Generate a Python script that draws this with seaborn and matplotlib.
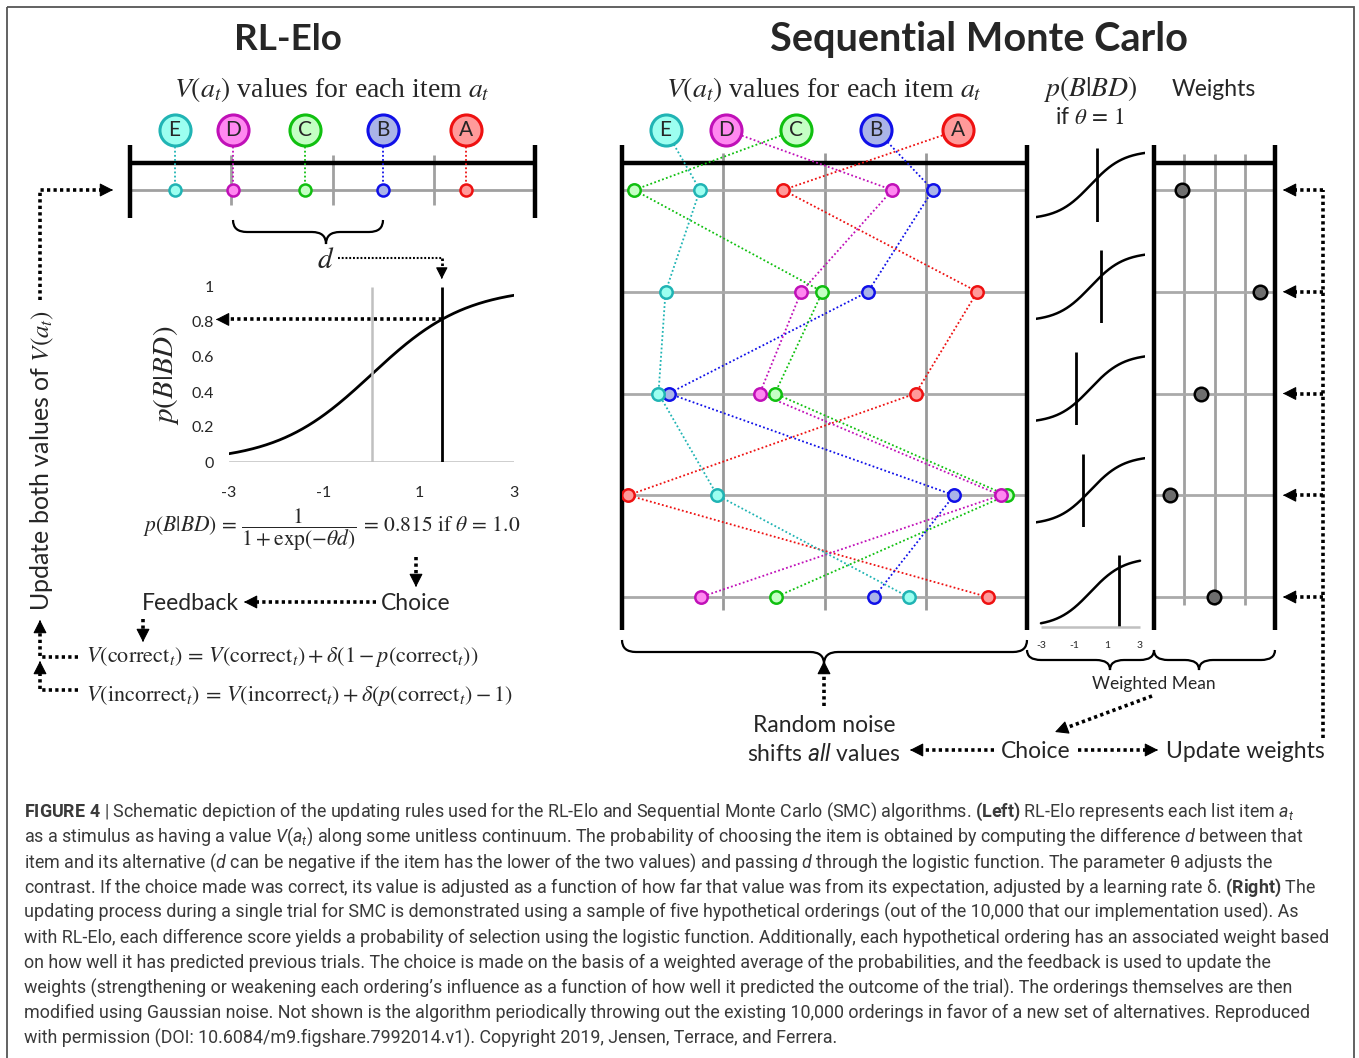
import numpy as np
import pandas as pd
import matplotlib
matplotlib.use("Agg")
import matplotlib.pyplot as plt
from matplotlib.path import Path
from matplotlib.patches import PathPatch, Rectangle
import seaborn as sns

# ---------------- data ----------------
items = ["A", "B", "C", "D", "E"]
rl_values = [3.32, 2.50, 1.73, 1.02, 0.44]        # RL-Elo V(a_t) on a 0..4 continuum
smc_label_pos = [3.32, 2.51, 1.72, 1.03, 0.43]    # item badges above the SMC panel
smc_A = [1.59, 3.51, 2.90, 0.06, 3.61]            # five hypothetical orderings (rows 1..5)
smc_B = [3.07, 2.43, 0.46, 3.28, 2.49]
smc_C = [0.12, 1.98, 1.51, 3.80, 1.52]
smc_D = [2.67, 1.77, 1.36, 3.74, 0.78]
smc_E = [0.77, 0.43, 0.36, 0.94, 2.83]
weights = [0.93, 3.50, 1.55, 0.53, 1.98]
theta = 1.0
p_ticks = [0, 0.2, 0.4, 0.6, 0.8, 1]
d_ticks = [-3, -1, 1, 3]
continuum_grid = [1, 2, 3]

caption_lines = [
    r"$\mathbf{FIGURE\ 4}$ | Schematic depiction of the updating rules used for the RL-Elo and Sequential Monte Carlo (SMC) algorithms. $\mathbf{(Left)}$ RL-Elo represents each list item $a_t$",
    r"as a stimulus as having a value $V(a_t)$ along some unitless continuum. The probability of choosing the item is obtained by computing the difference $d$ between that",
    r"item and its alternative ($d$ can be negative if the item has the lower of the two values) and passing $d$ through the logistic function. The parameter θ adjusts the",
    r"contrast. If the choice made was correct, its value is adjusted as a function of how far that value was from its expectation, adjusted by a learning rate δ. $\mathbf{(Right)}$ The",
    r"updating process during a single trial for SMC is demonstrated using a sample of five hypothetical orderings (out of the 10,000 that our implementation used). As",
    r"with RL-Elo, each difference score yields a probability of selection using the logistic function. Additionally, each hypothetical ordering has an associated weight based",
    r"on how well it has predicted previous trials. The choice is made on the basis of a weighted average of the probabilities, and the feedback is used to update the",
    r"weights (strengthening or weakening each ordering’s influence as a function of how well it predicted the outcome of the trial). The orderings themselves are then",
    r"modified using Gaussian noise. Not shown is the algorithm periodically throwing out the existing 10,000 orderings in favor of a new set of alternatives. Reproduced",
    r"with permission (DOI: 10.6084/m9.figshare.7992014.v1). Copyright 2019, Jensen, Terrace, and Ferrera.",
]

edge = {"A": "#ee1111", "B": "#1010e8", "C": "#10c010", "D": "#c010b8", "E": "#20b4b4"}
fill = {"A": "#ff9a9a", "B": "#aab4e8", "C": "#c4ffc4", "D": "#ff88f0", "E": "#9cfff0"}
smc = {"A": smc_A, "B": smc_B, "C": smc_C, "D": smc_D, "E": smc_E}

# ---------------- style ----------------
sns.set_style("white")
plt.rcParams["font.family"] = ["Lato", "DejaVu Sans"]
plt.rcParams["mathtext.fontset"] = "custom"
plt.rcParams["mathtext.rm"] = "Roboto"
plt.rcParams["mathtext.it"] = "Roboto:italic"
plt.rcParams["mathtext.bf"] = "Roboto:bold"
plt.rcParams["axes.unicode_minus"] = False

W, H, DPI = 1359, 1058, 100
fig = plt.figure(figsize=(W / DPI, H / DPI), dpi=DPI)
fig.patch.set_facecolor("white")

# canvas in pixel coordinates for annotations
cv = fig.add_axes([0, 0, 1, 1])
cv.set_xlim(0, W)
cv.set_ylim(H, 0)
cv.set_axis_off()

ROW = 101.75      # px between ordering rows
ROW0 = 190.0      # px of first row


def ypx(r):
    return ROW0 + r * ROW


def px_axes(x0, y0, x1, y1):
    ax = fig.add_axes([x0 / W, 1 - y1 / H, (x1 - x0) / W, (y1 - y0) / H])
    ax.patch.set_alpha(0)
    return ax


def brace(x0, x1, y, h, xm=None, lw=1.6):
    if xm is None:
        xm = (x0 + x1) / 2
    r = min(14, (xm - x0) / 2, (x1 - xm) / 2)
    ym = y + h / 2
    verts = [(x0, y), (x0, ym), (x0 + r, ym), (xm - r, ym), (xm, ym), (xm, y + h),
             (xm, ym), (xm + r, ym), (x1 - r, ym), (x1, ym), (x1, y)]
    codes = [Path.MOVETO, Path.CURVE3, Path.CURVE3, Path.LINETO, Path.CURVE3, Path.CURVE3,
             Path.CURVE3, Path.CURVE3, Path.LINETO, Path.CURVE3, Path.CURVE3]
    cv.add_patch(PathPatch(Path(verts, codes), fill=False, lw=lw, ec="k"))


def darrow(pts, lw=2.6, head=True, hs=15):
    pts = np.asarray(pts, float)
    if head:
        tip = pts[-1]
        prev = pts[-2]
        v = tip - prev
        v = v / np.hypot(*v)
        body = pts.copy()
        body[-1] = tip - v * 6
        cv.plot(body[:, 0], body[:, 1], color="k", lw=lw, ls=(0, (0.9, 0.9)),
                dash_capstyle="butt")
        cv.annotate("", xy=tip, xytext=tip - v * 2,
                    arrowprops=dict(arrowstyle="-|>,head_length=0.55,head_width=0.28",
                                    color="k", lw=0.8, mutation_scale=hs,
                                    shrinkA=0, shrinkB=0))
    else:
        cv.plot(pts[:, 0], pts[:, 1], color="k", lw=lw, ls=(0, (0.9, 0.9)),
                dash_capstyle="butt")


def to_canvas(ax, x, y):
    disp = ax.transData.transform((x, y))
    return cv.transData.inverted().transform(disp)


# ---------------- border ----------------
cv.add_patch(Rectangle((7, 7), 1347, 1200, fill=False, ec="#555555", lw=1.3))

# ---------------- titles ----------------
cv.text(288, 40, "RL-Elo", ha="center", va="center", fontsize=26.5, fontweight="bold")
cv.text(979, 40, "Sequential Monte Carlo", ha="center", va="center", fontsize=28.5,
        fontweight="bold")
hdr = r"$V(a_t)$ values for each item $a_t$"
cv.text(332, 90, hdr, ha="center", va="center", fontsize=20, family="Liberation Serif",
        math_fontfamily="stix")
cv.text(824, 90, hdr, ha="center", va="center", fontsize=20, family="Liberation Serif",
        math_fontfamily="stix")
cv.text(1090, 89, r"$p(B|BD)$", ha="center", va="center", fontsize=20,
        math_fontfamily="stix")
cv.text(1090, 118, r"if $\theta\,=\,1$", ha="center", va="center", fontsize=16.5,
        math_fontfamily="stix")
cv.text(1214, 89, "Weights", ha="center", va="center", fontsize=16.5)

# ---------------- RL-Elo continuum ----------------
badge_row = (130 - ROW0) / ROW
ax_rl = px_axes(130, ypx(-0.9), 535, ypx(0.57))
ax_rl.set_xlim(0, 4)
ax_rl.set_ylim(0.57, -0.9)
ax_rl.set_axis_off()
ax_rl.hlines(0, 0, 4, color="#a0a0a0", lw=2)
ax_rl.vlines(continuum_grid, (155 - ROW0) / ROW, (205 - ROW0) / ROW, color="#a0a0a0", lw=2)
ax_rl.hlines((163 - ROW0) / ROW, 0, 4, color="k", lw=3.2, clip_on=False)
ax_rl.vlines([0, 4], (145 - ROW0) / ROW, (218 - ROW0) / ROW, color="k", lw=3.2, clip_on=False)
rl_df = pd.DataFrame({
    "item": [it for it in items for _ in range(2)],
    "row": [badge_row, 0] * len(items),
    "value": [v for v in rl_values for _ in range(2)],
})
sns.lineplot(data=rl_df, x="value", y="row", hue="item", palette=edge, sort=False,
             estimator=None, lw=1.3, linestyle=(0, (1, 1.3)), legend=False, ax=ax_rl)
for it, v in zip(items, rl_values):
    sns.scatterplot(x=[v], y=[0], color=fill[it], edgecolor=edge[it], s=75, linewidth=1.8,
                    ax=ax_rl, zorder=5, legend=False)
    sns.scatterplot(x=[v], y=[badge_row], color=fill[it], edgecolor=edge[it], s=500,
                    linewidth=2.2, ax=ax_rl, zorder=6, legend=False, clip_on=False)
    ax_rl.text(v, badge_row, it, ha="center", va="center", fontsize=15, zorder=7)
ax_rl.set_xlabel("")
ax_rl.set_ylabel("")

brace(233, 383, 220, 24, xm=326)
cv.text(326, 260, r"$d$", ha="center", va="center", fontsize=21, math_fontfamily="stix")

# ---------------- logistic curve ----------------
iB, iD = items.index("B"), items.index("D")
d_rl = rl_values[iB] - rl_values[iD]
p_rl = 1 / (1 + np.exp(-theta * d_rl))
ax_lg = px_axes(229, 287, 514, 462)
ax_lg.set_xlim(-3, 3)
ax_lg.set_ylim(0, 1)
xs = np.linspace(-3, 3, 300)
sns.lineplot(x=xs, y=1 / (1 + np.exp(-theta * xs)), color="k", lw=2, ax=ax_lg)
ax_lg.axhline(0, color="#c0c0c0", lw=1.8)
ax_lg.vlines(0, 0, 1, color="#c0c0c0", lw=1.8)
ax_lg.vlines(d_rl, 0, 1, color="k", lw=2)
sns.despine(ax=ax_lg, left=True, bottom=True)
ax_lg.set_xticks(d_ticks)
ax_lg.set_yticks(p_ticks)
ax_lg.set_yticklabels([f"{t:g}" for t in p_ticks])
ax_lg.tick_params(axis="x", length=0, labelsize=11.5, pad=17)
ax_lg.tick_params(axis="y", length=0, labelsize=11.5, pad=11)
ax_lg.set_xlabel("")
ax_lg.set_ylabel("")
cv.text(166, 375, r"$p(B|BD)$", ha="center", va="center", rotation=90, fontsize=21,
        math_fontfamily="stix")

px_int = to_canvas(ax_lg, d_rl, p_rl)
darrow([px_int, (216, px_int[1])])
top_d = to_canvas(ax_lg, d_rl, 1.0)
darrow([(338, 258), (top_d[0], 258)], lw=1.5, head=False)
darrow([(top_d[0], 258), (top_d[0], 279)], lw=2.0, hs=13)

cv.text(332, 530,
        r"$p(B|BD)\, =\, \dfrac{1}{1 + \exp(-\theta d)}\, =\, %.3f\ \mathrm{if}\ \theta\, =\, %.1f$"
        % (p_rl, theta),
        ha="center", va="center", fontsize=15.5, math_fontfamily="stix")
darrow([(416, 557), (416, 587)])
cv.text(416, 604, "Choice", ha="center", va="center", fontsize=16.5)
darrow([(376, 602), (244, 602)])
cv.text(190, 604, "Feedback", ha="center", va="center", fontsize=16.5)
darrow([(143, 619), (143, 642)])
cv.text(86, 657, r"$V(\mathrm{correct}_t)\, =\, V(\mathrm{correct}_t) + \delta\left(1 - p(\mathrm{correct}_t)\right)$",
        ha="left", va="center", fontsize=16, math_fontfamily="stix")
cv.text(86, 696, r"$V(\mathrm{incorrect}_t)\, =\, V(\mathrm{incorrect}_t) + \delta(p(\mathrm{correct}_t) - 1)$",
        ha="left", va="center", fontsize=16, math_fontfamily="stix")
darrow([(78, 657), (40, 657), (40, 620)])
darrow([(78, 690), (40, 690), (40, 661)])
cv.text(42, 460, r"Update both values of $V(a_t)$", ha="center", va="center", rotation=90,
        fontsize=18, math_fontfamily="stix")
darrow([(40, 300), (40, 190), (113, 190)])

# ---------------- SMC orderings ----------------
rows = list(range(5))
ax_smc = px_axes(622, ypx(-0.9), 1027, ypx(4.5))
ax_smc.set_xlim(0, 4)
ax_smc.set_ylim(4.5, -0.9)
ax_smc.set_axis_off()
ax_smc.vlines(continuum_grid, (153 - ROW0) / ROW, (610 - ROW0) / ROW, color="#999999", lw=2)
ax_smc.hlines(rows, 0, 4, color="#aaaaaa", lw=2)
ax_smc.hlines((163 - ROW0) / ROW, 0, 4, color="k", lw=3.2, clip_on=False)
ax_smc.vlines([0, 4], (145 - ROW0) / ROW, (630 - ROW0) / ROW, color="k", lw=3.2,
              clip_on=False)
recs = []
for it, lab in zip(items, smc_label_pos):
    recs.append((it, badge_row, lab))
    for r, v in zip(rows, smc[it]):
        recs.append((it, r, v))
smc_df = pd.DataFrame(recs, columns=["item", "row", "value"])
sns.lineplot(data=smc_df, x="value", y="row", hue="item", palette=edge, sort=False,
             estimator=None, lw=1.3, linestyle=(0, (1, 1.3)), legend=False, ax=ax_smc)
for it, lab in zip(items, smc_label_pos):
    sns.scatterplot(x=smc[it], y=rows, color=fill[it], edgecolor=edge[it], s=80,
                    linewidth=1.8, ax=ax_smc, zorder=5, legend=False)
    sns.scatterplot(x=[lab], y=[badge_row], color=fill[it], edgecolor=edge[it], s=500,
                    linewidth=2.2, ax=ax_smc, zorder=6, legend=False, clip_on=False)
    ax_smc.text(lab, badge_row, it, ha="center", va="center", fontsize=15, zorder=7)
ax_smc.set_xlabel("")
ax_smc.set_ylabel("")

# ---------------- per-ordering p(B|BD) ----------------
for i in rows:
    d_i = smc_B[i] - smc_D[i]
    top = 148.4 + i * ROW
    ax_m = px_axes(1036, top, 1145, top + 73.2)
    ax_m.set_xlim(-3.3, 3.3)
    ax_m.set_ylim(-0.03, 1.03)
    lim = 3.0 if i == 4 else 3.3
    xm = np.linspace(-lim, lim, 200)
    sns.lineplot(x=xm, y=1 / (1 + np.exp(-theta * xm)), color="k", lw=1.8, ax=ax_m)
    ax_m.vlines(d_i, -0.03 if i < 4 else 0, 1.03, color="k", lw=2)
    sns.despine(ax=ax_m, left=True, bottom=True)
    ax_m.set_yticks([])
    ax_m.set_xlabel("")
    ax_m.set_ylabel("")
    if i == 4:
        ax_m.hlines(0, -3, 3, color="#c0c0c0", lw=1.8)
        ax_m.set_xticks(d_ticks)
        ax_m.tick_params(axis="x", length=0, labelsize=7.5, pad=9)
    else:
        ax_m.set_xticks([])

# ---------------- weights ----------------
ax_w = px_axes(1154, ypx(-0.9), 1275, ypx(4.5))
ax_w.set_xlim(0, 4)
ax_w.set_ylim(4.5, -0.9)
ax_w.set_axis_off()
ax_w.vlines(continuum_grid, (154 - ROW0) / ROW, (605 - ROW0) / ROW, color="#a0a0a0", lw=2)
ax_w.hlines(rows, 0, 4, color="#aaaaaa", lw=2)
ax_w.hlines((163 - ROW0) / ROW, 0, 4, color="k", lw=3.2, clip_on=False)
ax_w.vlines([0, 4], (145 - ROW0) / ROW, (630 - ROW0) / ROW, color="k", lw=3.2,
            clip_on=False)
sns.scatterplot(x=weights, y=rows, color="#6e6e6e", edgecolor="k", s=95, linewidth=1.8,
                ax=ax_w, zorder=5, legend=False)
ax_w.set_xlabel("")
ax_w.set_ylabel("")

# right-hand update arrows
darrow([(1323, 738), (1323, ypx(0))], head=False)
for r in rows:
    darrow([(1323, ypx(r)), (1283, ypx(r))])

# ---------------- bottom braces & flow ----------------
brace(622, 1027, 640, 24, xm=824)
brace(1027, 1154, 650, 20, xm=1110)
brace(1154, 1275, 650, 20, xm=1199)
cv.text(1154, 684, "Weighted Mean", ha="center", va="center", fontsize=12.5)
darrow([(824, 706), (824, 661)])
darrow([(1152, 696), (1055, 732)])
cv.text(824, 725, "Random noise", ha="center", va="center", fontsize=16.5)
cv.text(824, 754, r"shifts $\mathit{all}$ values", ha="center", va="center", fontsize=16.5)
cv.text(1036, 752, "Choice", ha="center", va="center", fontsize=16.5)
cv.text(1245, 752, "Update weights", ha="center", va="center", fontsize=16.5)
darrow([(994, 750), (910, 750)])
darrow([(1078, 750), (1158, 750)])

# ---------------- caption ----------------
for k, line in enumerate(caption_lines):
    cv.text(24, 812 + 25.15 * k, line, ha="left", va="center", fontsize=12.9,
            family="Roboto", color="#3a3a3a", math_fontfamily="custom")

fig.savefig("out.png", dpi=DPI, facecolor="white")
